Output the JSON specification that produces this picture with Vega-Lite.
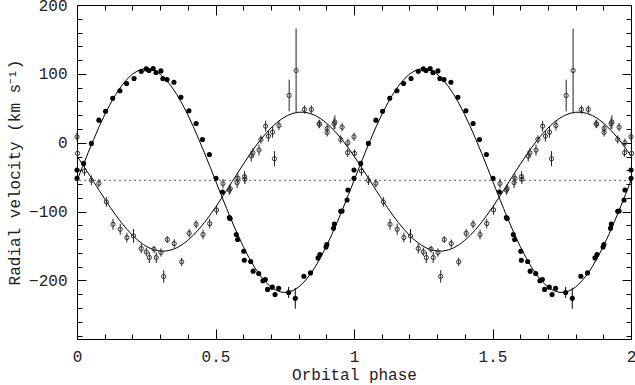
{
  "$schema": "https://vega.github.io/schema/vega-lite/v6.json",
  "width": 554,
  "height": 334,
  "autosize": "none",
  "padding": {"left": 77, "right": 4, "top": 5, "bottom": 46},
  "background": "white",
  "config": {
    "view": {"stroke": null},
    "axis": {
      "labelFont": "Liberation Mono",
      "titleFont": "Liberation Mono",
      "labelFontSize": 16,
      "titleFontSize": 16,
      "titleFontWeight": "normal",
      "labelColor": "#222",
      "titleColor": "#222",
      "domainColor": "#000",
      "tickColor": "#000",
      "grid": false,
      "labelOverlap": false,
      "labelFlush": false
    }
  },
  "datasets": {
    "gamma": [{"g": -54.6}],
    "curve": [
      {"p": 0, "a": -55, "b": -19.3}, {"p": 0.02, "a": -34.6, "b": -31.4}, {"p": 0.04, "a": -14.6, "b": -43.8}, {"p": 0.06, "a": 4.8, "b": -56.5}, {"p": 0.08, "a": 23.3, "b": -69.2}, {"p": 0.1, "a": 40.5, "b": -81.6}, {"p": 0.12, "a": 56.2, "b": -93.7}, {"p": 0.14, "a": 70.2, "b": -105.2}, {"p": 0.16, "a": 82.2, "b": -115.9}, {"p": 0.18, "a": 92.0, "b": -125.6},
      {"p": 0.2, "a": 99.6, "b": -134.3}, {"p": 0.22, "a": 104.6, "b": -141.8}, {"p": 0.24, "a": 107.2, "b": -147.9}, {"p": 0.26, "a": 107.2, "b": -152.6}, {"p": 0.28, "a": 104.6, "b": -155.7}, {"p": 0.3, "a": 99.6, "b": -157.3}, {"p": 0.32, "a": 92.0, "b": -157.3}, {"p": 0.34, "a": 82.2, "b": -155.7}, {"p": 0.36, "a": 70.2, "b": -152.6}, {"p": 0.38, "a": 56.2, "b": -147.9},
      {"p": 0.4, "a": 40.5, "b": -141.8}, {"p": 0.42, "a": 23.3, "b": -134.3}, {"p": 0.44, "a": 4.8, "b": -125.6}, {"p": 0.46, "a": -14.6, "b": -115.9}, {"p": 0.48, "a": -34.6, "b": -105.2}, {"p": 0.5, "a": -55, "b": -93.7}, {"p": 0.52, "a": -75.4, "b": -81.6}, {"p": 0.54, "a": -95.4, "b": -69.2}, {"p": 0.56, "a": -114.8, "b": -56.5}, {"p": 0.58, "a": -133.3, "b": -43.8},
      {"p": 0.6, "a": -150.5, "b": -31.4}, {"p": 0.62, "a": -166.2, "b": -19.3}, {"p": 0.64, "a": -180.2, "b": -7.8}, {"p": 0.66, "a": -192.2, "b": 2.9}, {"p": 0.68, "a": -202.0, "b": 12.6}, {"p": 0.7, "a": -209.6, "b": 21.3}, {"p": 0.72, "a": -214.6, "b": 28.8}, {"p": 0.74, "a": -217.2, "b": 34.9}, {"p": 0.76, "a": -217.2, "b": 39.6}, {"p": 0.78, "a": -214.6, "b": 42.7},
      {"p": 0.8, "a": -209.6, "b": 44.3}, {"p": 0.82, "a": -202.0, "b": 44.3}, {"p": 0.84, "a": -192.2, "b": 42.7}, {"p": 0.86, "a": -180.2, "b": 39.6}, {"p": 0.88, "a": -166.2, "b": 34.9}, {"p": 0.9, "a": -150.5, "b": 28.8}, {"p": 0.92, "a": -133.3, "b": 21.3}, {"p": 0.94, "a": -114.8, "b": 12.6}, {"p": 0.96, "a": -95.4, "b": 2.9}, {"p": 0.98, "a": -75.4, "b": -7.8},
      {"p": 1.0, "a": -55, "b": -19.3}, {"p": 1.02, "a": -34.6, "b": -31.4}, {"p": 1.04, "a": -14.6, "b": -43.8}, {"p": 1.06, "a": 4.8, "b": -56.5}, {"p": 1.08, "a": 23.3, "b": -69.2}, {"p": 1.1, "a": 40.5, "b": -81.6}, {"p": 1.12, "a": 56.2, "b": -93.7}, {"p": 1.14, "a": 70.2, "b": -105.2}, {"p": 1.16, "a": 82.2, "b": -115.9}, {"p": 1.18, "a": 92.0, "b": -125.6},
      {"p": 1.2, "a": 99.6, "b": -134.3}, {"p": 1.22, "a": 104.6, "b": -141.8}, {"p": 1.24, "a": 107.2, "b": -147.9}, {"p": 1.26, "a": 107.2, "b": -152.6}, {"p": 1.28, "a": 104.6, "b": -155.7}, {"p": 1.3, "a": 99.6, "b": -157.3}, {"p": 1.32, "a": 92.0, "b": -157.3}, {"p": 1.34, "a": 82.2, "b": -155.7}, {"p": 1.36, "a": 70.2, "b": -152.6}, {"p": 1.38, "a": 56.2, "b": -147.9},
      {"p": 1.4, "a": 40.5, "b": -141.8}, {"p": 1.42, "a": 23.3, "b": -134.3}, {"p": 1.44, "a": 4.8, "b": -125.6}, {"p": 1.46, "a": -14.6, "b": -115.9}, {"p": 1.48, "a": -34.6, "b": -105.2}, {"p": 1.5, "a": -55, "b": -93.7}, {"p": 1.52, "a": -75.4, "b": -81.6}, {"p": 1.54, "a": -95.4, "b": -69.2}, {"p": 1.56, "a": -114.8, "b": -56.5}, {"p": 1.58, "a": -133.3, "b": -43.8},
      {"p": 1.6, "a": -150.5, "b": -31.4}, {"p": 1.62, "a": -166.2, "b": -19.3}, {"p": 1.64, "a": -180.2, "b": -7.8}, {"p": 1.66, "a": -192.2, "b": 2.9}, {"p": 1.68, "a": -202.0, "b": 12.6}, {"p": 1.7, "a": -209.6, "b": 21.3}, {"p": 1.72, "a": -214.6, "b": 28.8}, {"p": 1.74, "a": -217.2, "b": 34.9}, {"p": 1.76, "a": -217.2, "b": 39.6}, {"p": 1.78, "a": -214.6, "b": 42.7},
      {"p": 1.8, "a": -209.6, "b": 44.3}, {"p": 1.82, "a": -202.0, "b": 44.3}, {"p": 1.84, "a": -192.2, "b": 42.7}, {"p": 1.86, "a": -180.2, "b": 39.6}, {"p": 1.88, "a": -166.2, "b": 34.9}, {"p": 1.9, "a": -150.5, "b": 28.8}, {"p": 1.92, "a": -133.3, "b": 21.3}, {"p": 1.94, "a": -114.8, "b": 12.6}, {"p": 1.96, "a": -95.4, "b": 2.9}, {"p": 1.98, "a": -75.4, "b": -7.8},
      {"p": 2.0, "a": -55, "b": -19.3}
    ],
    "prim": [
      {"p": 0.000, "v": -39.7, "e": 0}, {"p": 0.000, "v": -51.7, "e": 0}, {"p": 0.024, "v": -30, "e": 0}, {"p": 0.052, "v": -1, "e": 0}, {"p": 0.079, "v": 32.8, "e": 0}, {"p": 0.103, "v": 45.8, "e": 0}, {"p": 0.129, "v": 64.6, "e": 0}, {"p": 0.155, "v": 75.4, "e": 0}, {"p": 0.179, "v": 86, "e": 0}, {"p": 0.206, "v": 93.2, "e": 0},
      {"p": 0.232, "v": 103.8, "e": 0}, {"p": 0.250, "v": 107.2, "e": 0}, {"p": 0.260, "v": 104.8, "e": 0}, {"p": 0.275, "v": 107.7, "e": 0}, {"p": 0.285, "v": 101.9, "e": 0}, {"p": 0.303, "v": 104.3, "e": 0}, {"p": 0.310, "v": 93.2, "e": 0}, {"p": 0.325, "v": 91.7, "e": 0}, {"p": 0.350, "v": 87.8, "e": 0}, {"p": 0.375, "v": 66, "e": 0},
      {"p": 0.404, "v": 46.4, "e": 0}, {"p": 0.430, "v": 28, "e": 0}, {"p": 0.453, "v": 4.8, "e": 0}, {"p": 0.478, "v": -17, "e": 0}, {"p": 0.502, "v": -51.7, "e": 0}, {"p": 0.525, "v": -71.6, "e": 0}, {"p": 0.550, "v": -108.7, "e": 0}, {"p": 0.553, "v": -110, "e": 0}, {"p": 0.575, "v": -133.3, "e": 0}, {"p": 0.580, "v": -140.6, "e": 0},
      {"p": 0.602, "v": -157.5, "e": 0}, {"p": 0.604, "v": -170.6, "e": 0}, {"p": 0.627, "v": -172.5, "e": 0}, {"p": 0.636, "v": -186.5, "e": 0}, {"p": 0.656, "v": -189.9, "e": 0}, {"p": 0.671, "v": -200.5, "e": 0}, {"p": 0.680, "v": -198.6, "e": 0}, {"p": 0.688, "v": -213, "e": 0}, {"p": 0.705, "v": -209.7, "e": 0}, {"p": 0.715, "v": -220.3, "e": 0},
      {"p": 0.728, "v": -211.2, "e": 0}, {"p": 0.764, "v": -217.4, "e": 8}, {"p": 0.788, "v": -226, "e": 15}, {"p": 0.819, "v": -193.8, "e": 0}, {"p": 0.843, "v": -189, "e": 0}, {"p": 0.870, "v": -167.2, "e": 0}, {"p": 0.877, "v": -162.3, "e": 0}, {"p": 0.899, "v": -151.3, "e": 0}, {"p": 0.902, "v": -147.8, "e": 0}, {"p": 0.926, "v": -124.2, "e": 0},
      {"p": 0.929, "v": -118, "e": 0}, {"p": 0.952, "v": -99.6, "e": 0}, {"p": 0.957, "v": -99.1, "e": 0}, {"p": 0.975, "v": -83.2, "e": 0}, {"p": 0.978, "v": -68.7, "e": 0},
      {"p": 1.000, "v": -39.7, "e": 0}, {"p": 1.000, "v": -51.7, "e": 0}, {"p": 1.024, "v": -30, "e": 0}, {"p": 1.052, "v": -1, "e": 0}, {"p": 1.079, "v": 32.8, "e": 0}, {"p": 1.103, "v": 45.8, "e": 0}, {"p": 1.129, "v": 64.6, "e": 0}, {"p": 1.155, "v": 75.4, "e": 0}, {"p": 1.179, "v": 86, "e": 0}, {"p": 1.206, "v": 93.2, "e": 0},
      {"p": 1.232, "v": 103.8, "e": 0}, {"p": 1.250, "v": 107.2, "e": 0}, {"p": 1.260, "v": 104.8, "e": 0}, {"p": 1.275, "v": 107.7, "e": 0}, {"p": 1.285, "v": 101.9, "e": 0}, {"p": 1.303, "v": 104.3, "e": 0}, {"p": 1.310, "v": 93.2, "e": 0}, {"p": 1.325, "v": 91.7, "e": 0}, {"p": 1.350, "v": 87.8, "e": 0}, {"p": 1.375, "v": 66, "e": 0},
      {"p": 1.404, "v": 46.4, "e": 0}, {"p": 1.430, "v": 28, "e": 0}, {"p": 1.453, "v": 4.8, "e": 0}, {"p": 1.478, "v": -17, "e": 0}, {"p": 1.502, "v": -51.7, "e": 0}, {"p": 1.525, "v": -71.6, "e": 0}, {"p": 1.550, "v": -108.7, "e": 0}, {"p": 1.553, "v": -110, "e": 0}, {"p": 1.575, "v": -133.3, "e": 0}, {"p": 1.580, "v": -140.6, "e": 0},
      {"p": 1.602, "v": -157.5, "e": 0}, {"p": 1.604, "v": -170.6, "e": 0}, {"p": 1.627, "v": -172.5, "e": 0}, {"p": 1.636, "v": -186.5, "e": 0}, {"p": 1.656, "v": -189.9, "e": 0}, {"p": 1.671, "v": -200.5, "e": 0}, {"p": 1.680, "v": -198.6, "e": 0}, {"p": 1.688, "v": -213, "e": 0}, {"p": 1.705, "v": -209.7, "e": 0}, {"p": 1.715, "v": -220.3, "e": 0},
      {"p": 1.728, "v": -211.2, "e": 0}, {"p": 1.764, "v": -217.4, "e": 8}, {"p": 1.788, "v": -226, "e": 15}, {"p": 1.819, "v": -193.8, "e": 0}, {"p": 1.843, "v": -189, "e": 0}, {"p": 1.870, "v": -167.2, "e": 0}, {"p": 1.877, "v": -162.3, "e": 0}, {"p": 1.899, "v": -151.3, "e": 0}, {"p": 1.902, "v": -147.8, "e": 0}, {"p": 1.926, "v": -124.2, "e": 0},
      {"p": 1.929, "v": -118, "e": 0}, {"p": 1.952, "v": -99.6, "e": 0}, {"p": 1.957, "v": -99.1, "e": 0}, {"p": 1.975, "v": -83.2, "e": 0}, {"p": 1.978, "v": -68.7, "e": 0},
      {"p": 2.000, "v": -39.7, "e": 0}, {"p": 2.000, "v": -51.7, "e": 0}
    ],
    "sec": [
      {"p": 0.000, "v": 8.7, "e": 6}, {"p": 0.002, "v": -15.5, "e": 6}, {"p": 0.027, "v": -41, "e": 7}, {"p": 0.052, "v": -54.6, "e": 7}, {"p": 0.079, "v": -59, "e": 6}, {"p": 0.106, "v": -86, "e": 7}, {"p": 0.130, "v": -118.4, "e": 8}, {"p": 0.156, "v": -125.7, "e": 8}, {"p": 0.180, "v": -137.7, "e": 7}, {"p": 0.204, "v": -135.3, "e": 10},
      {"p": 0.232, "v": -153.6, "e": 7}, {"p": 0.250, "v": -158.5, "e": 6}, {"p": 0.261, "v": -166.7, "e": 8}, {"p": 0.278, "v": -154.6, "e": 5}, {"p": 0.286, "v": -166.7, "e": 8}, {"p": 0.303, "v": -159.4, "e": 6}, {"p": 0.313, "v": -194.2, "e": 9}, {"p": 0.326, "v": -140.6, "e": 5}, {"p": 0.351, "v": -146.4, "e": 6}, {"p": 0.378, "v": -173, "e": 6},
      {"p": 0.405, "v": -131.4, "e": 6}, {"p": 0.430, "v": -118.4, "e": 6}, {"p": 0.455, "v": -133.3, "e": 7}, {"p": 0.479, "v": -117.4, "e": 7}, {"p": 0.504, "v": -97.7, "e": 7}, {"p": 0.527, "v": -59.4, "e": 7}, {"p": 0.550, "v": -68.7, "e": 7}, {"p": 0.553, "v": -66.7, "e": 7}, {"p": 0.578, "v": -58, "e": 8}, {"p": 0.581, "v": -51.7, "e": 7},
      {"p": 0.605, "v": -49.3, "e": 8}, {"p": 0.606, "v": -53, "e": 7}, {"p": 0.629, "v": -19.4, "e": 8}, {"p": 0.635, "v": -14.5, "e": 7}, {"p": 0.657, "v": -10.7, "e": 8}, {"p": 0.664, "v": 4.8, "e": 6}, {"p": 0.681, "v": 24, "e": 8}, {"p": 0.691, "v": 9.6, "e": 8}, {"p": 0.706, "v": 15.4, "e": 8}, {"p": 0.713, "v": -23.2, "e": 11},
      {"p": 0.729, "v": 25, "e": 7}, {"p": 0.766, "v": 68.6, "e": 23}, {"p": 0.791, "v": 104.8, "e": 61}, {"p": 0.821, "v": 48.3, "e": 6}, {"p": 0.846, "v": 48.3, "e": 6}, {"p": 0.874, "v": 27.5, "e": 6}, {"p": 0.876, "v": 27, "e": 6}, {"p": 0.903, "v": 20.7, "e": 6}, {"p": 0.903, "v": 15, "e": 6}, {"p": 0.928, "v": 27.5, "e": 8},
      {"p": 0.931, "v": 30, "e": 10}, {"p": 0.957, "v": 22.6, "e": 6}, {"p": 0.952, "v": 4.8, "e": 6}, {"p": 0.978, "v": 0, "e": 6}, {"p": 0.977, "v": -14.5, "e": 6},
      {"p": 1.000, "v": 8.7, "e": 6}, {"p": 1.002, "v": -15.5, "e": 6}, {"p": 1.027, "v": -41, "e": 7}, {"p": 1.052, "v": -54.6, "e": 7}, {"p": 1.079, "v": -59, "e": 6}, {"p": 1.106, "v": -86, "e": 7}, {"p": 1.130, "v": -118.4, "e": 8}, {"p": 1.156, "v": -125.7, "e": 8}, {"p": 1.180, "v": -137.7, "e": 7}, {"p": 1.204, "v": -135.3, "e": 10},
      {"p": 1.232, "v": -153.6, "e": 7}, {"p": 1.250, "v": -158.5, "e": 6}, {"p": 1.261, "v": -166.7, "e": 8}, {"p": 1.278, "v": -154.6, "e": 5}, {"p": 1.286, "v": -166.7, "e": 8}, {"p": 1.303, "v": -159.4, "e": 6}, {"p": 1.313, "v": -194.2, "e": 9}, {"p": 1.326, "v": -140.6, "e": 5}, {"p": 1.351, "v": -146.4, "e": 6}, {"p": 1.378, "v": -173, "e": 6},
      {"p": 1.405, "v": -131.4, "e": 6}, {"p": 1.430, "v": -118.4, "e": 6}, {"p": 1.455, "v": -133.3, "e": 7}, {"p": 1.479, "v": -117.4, "e": 7}, {"p": 1.504, "v": -97.7, "e": 7}, {"p": 1.527, "v": -59.4, "e": 7}, {"p": 1.550, "v": -68.7, "e": 7}, {"p": 1.553, "v": -66.7, "e": 7}, {"p": 1.578, "v": -58, "e": 8}, {"p": 1.581, "v": -51.7, "e": 7},
      {"p": 1.605, "v": -49.3, "e": 8}, {"p": 1.606, "v": -53, "e": 7}, {"p": 1.629, "v": -19.4, "e": 8}, {"p": 1.635, "v": -14.5, "e": 7}, {"p": 1.657, "v": -10.7, "e": 8}, {"p": 1.664, "v": 4.8, "e": 6}, {"p": 1.681, "v": 24, "e": 8}, {"p": 1.691, "v": 9.6, "e": 8}, {"p": 1.706, "v": 15.4, "e": 8}, {"p": 1.713, "v": -23.2, "e": 11},
      {"p": 1.729, "v": 25, "e": 7}, {"p": 1.766, "v": 68.6, "e": 23}, {"p": 1.791, "v": 104.8, "e": 61}, {"p": 1.821, "v": 48.3, "e": 6}, {"p": 1.846, "v": 48.3, "e": 6}, {"p": 1.874, "v": 27.5, "e": 6}, {"p": 1.876, "v": 27, "e": 6}, {"p": 1.903, "v": 20.7, "e": 6}, {"p": 1.903, "v": 15, "e": 6}, {"p": 1.928, "v": 27.5, "e": 8},
      {"p": 1.931, "v": 30, "e": 10}, {"p": 1.957, "v": 22.6, "e": 6}, {"p": 1.952, "v": 4.8, "e": 6}, {"p": 1.978, "v": 0, "e": 6}, {"p": 1.977, "v": -14.5, "e": 6},
      {"p": 2.000, "v": 8.7, "e": 6}, {"p": 2.002, "v": -15.5, "e": 6}
    ]
  },
  "resolve": {"axis": {"x": "independent", "y": "independent"}},
  "layer": [
    {
      "data": {"name": "gamma"},
      "mark": {"type": "rule", "color": "#666", "strokeDash": [2, 3], "strokeWidth": 1},
      "encoding": {
        "y": {"field": "g", "type": "quantitative", "scale": {"domain": [-285, 200], "nice": false, "zero": false}, "axis": null}
      }
    },
    {
      "data": {"name": "curve"},
      "mark": {"type": "line", "color": "#000", "strokeWidth": 1},
      "encoding": {
        "x": {"field": "p", "type": "quantitative", "scale": {"domain": [0, 2], "nice": false, "zero": false}, "axis": null},
        "y": {"field": "a", "type": "quantitative", "scale": {"domain": [-285, 200], "nice": false, "zero": false}, "axis": null}
      }
    },
    {
      "data": {"name": "curve"},
      "mark": {"type": "line", "color": "#000", "strokeWidth": 1},
      "encoding": {
        "x": {"field": "p", "type": "quantitative", "scale": {"domain": [0, 2], "nice": false, "zero": false}, "axis": null},
        "y": {"field": "b", "type": "quantitative", "scale": {"domain": [-285, 200], "nice": false, "zero": false}, "axis": null}
      }
    },
    {
      "data": {"name": "sec"},
      "mark": {"type": "errorbar", "color": "#222", "thickness": 1},
      "encoding": {
        "x": {"field": "p", "type": "quantitative", "scale": {"domain": [0, 2], "nice": false, "zero": false}, "axis": null},
        "y": {"field": "v", "type": "quantitative", "scale": {"domain": [-285, 200], "nice": false, "zero": false}, "axis": null},
        "yError": {"field": "e"}
      }
    },
    {
      "data": {"name": "sec"},
      "mark": {"type": "point", "shape": "circle", "filled": false, "stroke": "#333", "strokeWidth": 1, "size": 18, "opacity": 1},
      "encoding": {
        "x": {
          "field": "p", "type": "quantitative", "scale": {"domain": [0, 2], "nice": false, "zero": false},
          "axis": {
            "orient": "top", "labels": false, "title": null,
            "values": [0, 0.1, 0.2, 0.3, 0.4, 0.5, 0.6, 0.7, 0.8, 0.9, 1, 1.1, 1.2, 1.3, 1.4, 1.5, 1.6, 1.7, 1.8, 1.9, 2],
            "tickSize": {"condition": {"test": "datum.value % 0.5 == 0", "value": -10}, "value": -5}
          }
        },
        "y": {
          "field": "v", "type": "quantitative", "scale": {"domain": [-285, 200], "nice": false, "zero": false},
          "axis": {
            "orient": "right", "labels": false, "title": null,
            "values": [-280, -260, -240, -220, -200, -180, -160, -140, -120, -100, -80, -60, -40, -20, 0, 20, 40, 60, 80, 100, 120, 140, 160, 180, 200],
            "tickSize": {"condition": {"test": "datum.value % 100 == 0", "value": -9}, "value": -5}
          }
        }
      }
    },
    {
      "data": {"name": "prim"},
      "mark": {"type": "errorbar", "color": "#000", "thickness": 1},
      "encoding": {
        "x": {"field": "p", "type": "quantitative", "scale": {"domain": [0, 2], "nice": false, "zero": false}, "axis": null},
        "y": {"field": "v", "type": "quantitative", "scale": {"domain": [-285, 200], "nice": false, "zero": false}, "axis": null},
        "yError": {"field": "e"}
      }
    },
    {
      "data": {"name": "prim"},
      "mark": {"type": "circle", "color": "#000", "size": 26, "opacity": 1},
      "encoding": {
        "x": {
          "field": "p", "type": "quantitative", "scale": {"domain": [0, 2], "nice": false, "zero": false},
          "axis": {
            "orient": "bottom", "title": "Orbital phase", "titlePadding": -3, "labelPadding": 19, "format": "~g",
            "values": [0, 0.1, 0.2, 0.3, 0.4, 0.5, 0.6, 0.7, 0.8, 0.9, 1, 1.1, 1.2, 1.3, 1.4, 1.5, 1.6, 1.7, 1.8, 1.9, 2],
            "labelExpr": "datum.value % 0.5 == 0 ? datum.label : ''",
            "tickSize": {"condition": {"test": "datum.value % 0.5 == 0", "value": -10}, "value": -5}
          }
        },
        "y": {
          "field": "v", "type": "quantitative", "scale": {"domain": [-285, 200], "nice": false, "zero": false},
          "axis": {
            "orient": "left", "title": "Radial velocity (km s⁻¹)", "titlePadding": 6, "labelPadding": 19, "format": "d",
            "values": [-280, -260, -240, -220, -200, -180, -160, -140, -120, -100, -80, -60, -40, -20, 0, 20, 40, 60, 80, 100, 120, 140, 160, 180, 200],
            "labelExpr": "datum.value % 100 == 0 ? datum.label : ''",
            "tickSize": {"condition": {"test": "datum.value % 100 == 0", "value": -9}, "value": -5}
          }
        }
      }
    }
  ]
}
